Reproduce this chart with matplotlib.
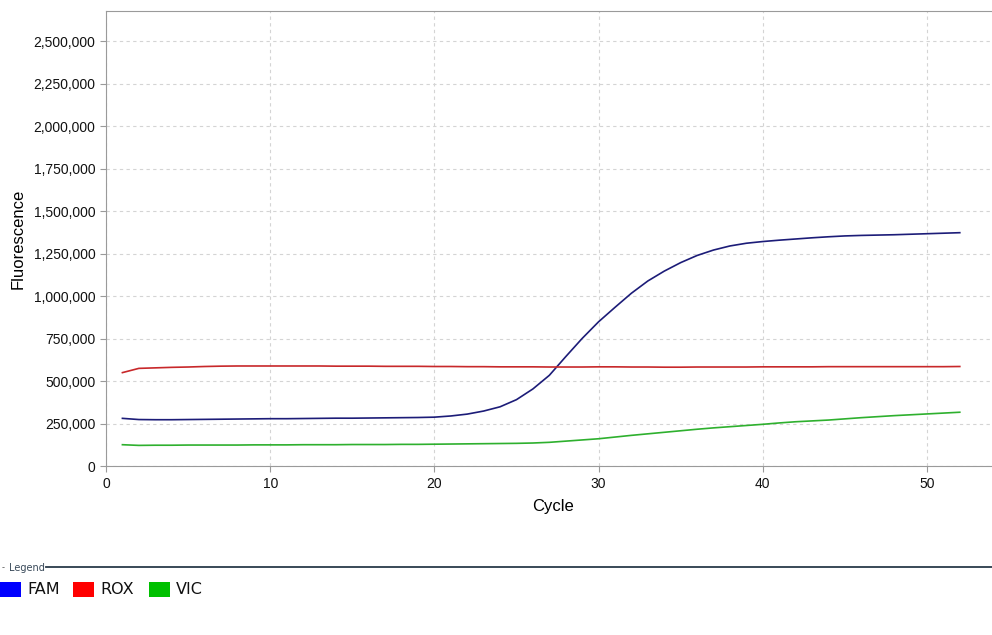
"""qPCR amplification curves (FAM / ROX / VIC)."""

import matplotlib

matplotlib.use("Agg")
import matplotlib.pyplot as plt
from matplotlib.patches import Rectangle
from matplotlib.ticker import FuncFormatter, MultipleLocator

cycles = list(range(1, 53))

# fluorescence, in thousands
fam = [282, 275, 274, 274, 275, 276, 277, 278, 279, 280,
       280, 281, 282, 283, 283, 284, 285, 286, 287, 289,
       296, 307, 325, 350, 392, 455, 535, 645, 752, 850,
       935, 1018, 1090, 1148, 1198, 1240, 1272, 1296, 1312, 1322,
       1330, 1337, 1344, 1350, 1355, 1358, 1360, 1362, 1365, 1368,
       1371, 1374]
rox = [551, 576, 579, 582, 584, 587, 589, 590, 590, 590,
       590, 590, 590, 589, 589, 589, 588, 588, 588, 587,
       587, 586, 586, 585, 585, 585, 584, 584, 584, 585,
       585, 584, 584, 583, 583, 584, 584, 584, 584, 585,
       585, 585, 585, 586, 586, 586, 586, 586, 586, 586,
       586, 587]
vic = [127, 123, 124, 124, 125, 125, 125, 125, 126, 126,
       126, 127, 127, 127, 128, 128, 128, 129, 129, 130,
       131, 132, 133, 134, 135, 137, 141, 148, 155, 162,
       172, 182, 191, 200, 209, 218, 226, 233, 240, 247,
       255, 262, 267, 272, 279, 286, 292, 298, 303, 308,
       313, 318]

series_names = ["FAM", "ROX", "VIC"]
line_colors = ["#1c1c78", "#c8282a", "#2eb02e"]
legend_colors = ["#0000ff", "#ff0000", "#00c000"]

W, H = 992, 635
fig = plt.figure(figsize=(W / 100, H / 100), dpi=100)
ax = fig.add_axes([106 / W, (H - 466.3) / H, (1000 - 106) / W, (466.3 - 11) / H])

for name, vals, color in zip(series_names, [fam, rox, vic], line_colors):
    ax.plot(cycles, [v * 1000 for v in vals], color=color, lw=1.2, label=name)

ax.set_xlim(0, (1000 - 106.5) / 16.41)
ax.set_ylim(0, 2678000)
ax.xaxis.set_major_locator(MultipleLocator(10))
ax.yaxis.set_major_locator(MultipleLocator(250000))
ax.yaxis.set_major_formatter(FuncFormatter(lambda v, _: f"{int(v):,}"))

ax.grid(True, color="#d4d4d4", ls=(0, (3, 3)), lw=0.8)
for side in ["left", "bottom", "top"]:
    ax.spines[side].set_color("#9a9a9a")
ax.spines["right"].set_visible(False)
ax.tick_params(axis="both", colors="#9a9a9a", labelcolor="#111111",
               labelsize=10, length=4, width=0.8)
for lbl in ax.get_xticklabels() + ax.get_yticklabels():
    lbl.set_family("Liberation Sans")

ax.set_xlabel("Cycle", fontsize=12, family="Liberation Sans", labelpad=6)
ax.set_ylabel("Fluorescence", fontsize=12, family="Liberation Sans")
ax.yaxis.set_label_coords(-80 / 894, 0.5)

# legend panel below the chart
fig.text(2 / W, 1 - 568 / H, "-", fontsize=6, color="#555555", va="center")
fig.text(9 / W, 1 - 568 / H, "Legend", fontsize=7, color="#3a4a5a",
         va="center", family="DejaVu Sans")
fig.add_artist(plt.Line2D([46 / W, 1], [1 - 567 / H, 1 - 567 / H],
                          color="#2a3a4a", lw=1.3))
box_x = [0, 73, 149]
for x0, name, color in zip(box_x, series_names, legend_colors):
    fig.add_artist(Rectangle((x0 / W, 1 - 597 / H), 21 / W, 15 / H,
                             transform=fig.transFigure, facecolor=color,
                             edgecolor="none"))
    fig.text((x0 + 27) / W, 1 - 590 / H, name, fontsize=11.5,
             color="#111111", va="center", family="DejaVu Sans")

fig.savefig("out.png", dpi=100)
